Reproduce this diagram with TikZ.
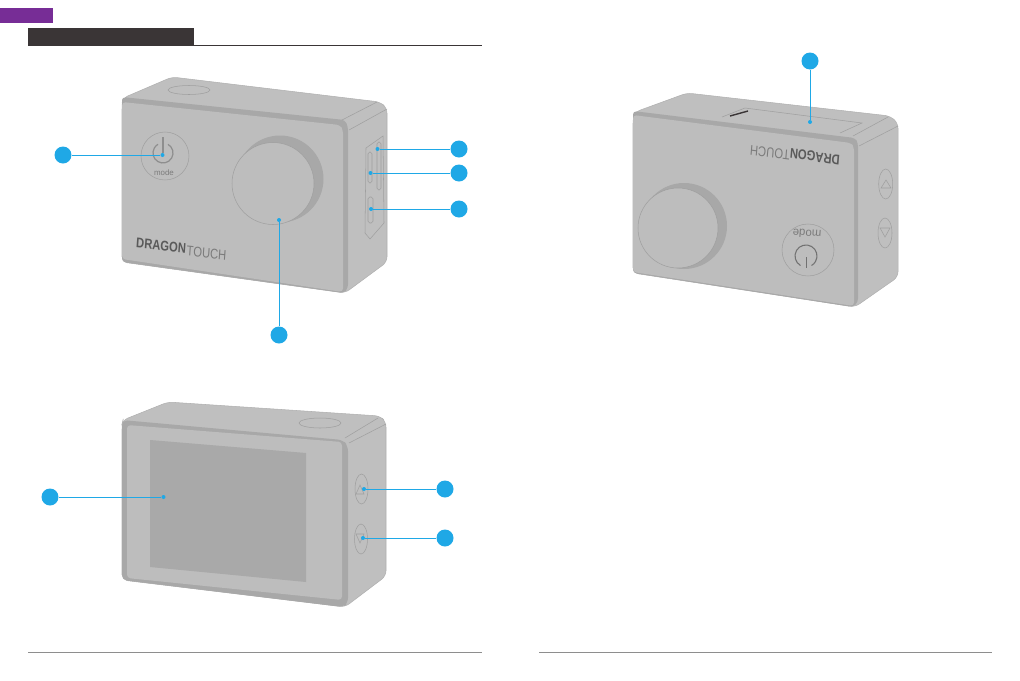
\documentclass[tikz,border=0pt]{standalone}
\usepackage{fontspec}
\setmainfont{Liberation Sans}
\tikzset{
  body/.style={fill=camgray, draw=edgegray!70, line width=0.3pt, rounded corners=3pt},
  band/.style={fill=bandgray, rounded corners=2pt},
  face/.style={fill=facegray, rounded corners=2pt},
  thin line/.style={draw=edgegray!85, line width=0.3pt},
  callnum/.style={circle, fill=callblue, minimum size=0.34cm, inner sep=0pt},
  tipdot/.style={circle, fill=callblue, minimum size=0.08cm, inner sep=0pt},
  callout/.style={draw=callblue, line width=0.5pt},
  logotext/.style={font=\fontsize{8}{8}\selectfont, xscale=0.8, inner sep=0pt, text=logogray},
  modetext/.style={font=\fontsize{4.5}{4.5}\selectfont, inner sep=0pt, text=logogray!80}
}
\definecolor{camgray}{HTML}{BFBFBF}
\definecolor{bandgray}{HTML}{A8A8A8}
\definecolor{facegray}{HTML}{BDBDBD}
\definecolor{screengray}{HTML}{A9A9A9}
\definecolor{edgegray}{HTML}{8E8E8E}
\definecolor{logogray}{HTML}{5A5A5A}
\definecolor{callblue}{HTML}{1FA8E6}
\definecolor{headdark}{HTML}{3A3536}
\definecolor{headpurple}{HTML}{772D96}
\begin{document}
\begin{tikzpicture}[x=0.02cm, y=-0.02cm]
  \useasboundingbox (0,0) rectangle (1020,680);

  % page header and footer
  \fill[headpurple] (0,8) rectangle (53,23);
  \fill[headdark] (28,28) rectangle (194,45.5);
  \draw[headdark, line width=0.45pt] (194,45) -- (482,45);
  \draw[edgegray, line width=0.4pt] (28,652) -- (482,652);
  \draw[edgegray, line width=0.4pt] (539,652) -- (992,652);

  % front view
  \draw[body] (122,104) -- (123,98) -- (172,77) -- (380,102) -- (387,108) -- (387,262) -- (345,293) -- (122,262) -- cycle;
  \fill[band] (122,97) -- (345,120) -- (348,127) -- (348,288) -- (344,293) -- (122,262) -- cycle;
  \fill[face] (122,102) -- (340,125) -- (343,130) -- (343,292) -- (122,259) -- cycle;
  \draw[thin line] (342,120) -- (377,102);
  \draw[thin line] (349,130) -- (387,109);
  \draw[thin line] (189,90) ellipse [x radius=21, y radius=4.5];
  \fill[bandgray] (280,179) circle [radius=43.5];
  \draw[thin line, fill=facegray] (273,183.5) circle [radius=41];
  \draw[thin line] (165,156) circle [radius=24];
  \draw[edgegray, line width=0.7pt] (168,144.3) arc [start angle=-60, end angle=240, radius=10];
  \draw[edgegray, line width=0.7pt] (163,137) -- (163,153);
  \node[modetext] (modeA) at (164,173) {mode};
  \node[logotext, rotate=-5, font=\fontsize{8}{8}\selectfont\bfseries, anchor=west] (logoA) at (136,243) {DRAGON};
  \node[logotext, rotate=-5, anchor=west, text=logogray!80] (touchA) at (186.5,251) {TOUCH};
  % side ports
  \draw[thin line] (366,148) -- (383,136) -- (384,223) -- (370,239) -- (365,233) -- cycle;
  \draw[thin line, rounded corners=1pt] (377,142) rectangle (381,190);
  \draw[thin line, rounded corners=1pt] (368,152) rectangle (372,183);
  \draw[thin line, rounded corners=1pt] (368,197) rectangle (373,223);

  % back view
  \draw[body] (122,424) -- (123,420) -- (168,402) -- (380,416) -- (386,422) -- (386,576) -- (345,607) -- (122,580) -- cycle;
  \fill[band, rounded corners=3pt] (122,420) -- (343,440) -- (348,446) -- (348,603) -- (343,607) -- (122,580) -- cycle;
  \fill[face] (127,425) -- (342,442) -- (342,600) -- (127,578) -- cycle;
  \fill[screengray] (150,440) -- (306,453) -- (306,582) -- (150,567) -- cycle;
  \draw[thin line] (345,438) -- (378,418);
  \draw[thin line] (349,443) -- (386,424);
  \draw[thin line] (320,423) ellipse [x radius=21, y radius=5];
  \draw[thin line] (361.5,489) ellipse [x radius=6.5, y radius=15];
  \draw[thin line] (361,539) ellipse [x radius=6.5, y radius=15];
  \draw[thin line] (360,485) -- (356,494) -- (364,494) -- cycle;
  \draw[thin line] (360,543) -- (356,534) -- (364,534) -- cycle;

  % top view
  \draw[body] (633,118) -- (635,112) -- (687,93) -- (890,116) -- (898,123) -- (898,277) -- (855,307) -- (633,273) -- cycle;
  \fill[band] (633,111) -- (855,138) -- (858,143) -- (858,302) -- (853,307) -- (633,273) -- cycle;
  \fill[face] (633,115) -- (851,143) -- (854,147) -- (854,306) -- (633,272) -- cycle;
  \draw[thin line] (853,136) -- (888,117);
  \draw[thin line] (859,146) -- (898,126);
  \draw[thin line] (722,117) -- (745,108) -- (862,123) -- (840,133);
  \draw[headdark, line width=0.8pt] (730,116) -- (748,111);
  \fill[bandgray] (684,226) circle [radius=43];
  \draw[thin line, fill=facegray] (678,228) circle [radius=40];
  \draw[thin line] (808,250) circle [radius=26];
  \draw[edgegray!80!black, line width=0.6pt] (800.5,265.5) arc [start angle=120, end angle=420, radius=11];
  \draw[edgegray!80!black, line width=0.6pt] (806.5,257) -- (806.5,268);
  \node[modetext, rotate=176, font=\fontsize{6.5}{6.5}\selectfont] (modeB) at (807,234) {mode};
  \node[logotext, rotate=174, font=\fontsize{8}{8}\selectfont\bfseries, anchor=west] (logoB) at (840,160) {DRAGON};
  \node[logotext, rotate=174, anchor=west, text=logogray!80] (touchB) at (790,155) {TOUCH};
  \draw[thin line] (885.7,184) ellipse [x radius=7, y radius=15];
  \draw[thin line] (885,233) ellipse [x radius=7, y radius=15];
  \draw[thin line] (886,180) -- (881,188) -- (891,188) -- cycle;
  \draw[thin line] (885,237) -- (880,228) -- (890,228) -- cycle;

  % callouts
  \node[callnum] (numPower) at (63,155) {};
  \node[tipdot] (tipPower) at (162.5,155) {};
  \draw[callout] (numPower) -- (tipPower);
  \node[callnum] (numCard) at (459,149) {};
  \node[tipdot] (tipCard) at (377.5,149) {};
  \draw[callout] (numCard) -- (tipCard);
  \node[callnum] (numUsb) at (459,173) {};
  \node[tipdot] (tipUsb) at (370.5,173) {};
  \draw[callout] (numUsb) -- (tipUsb);
  \node[callnum] (numHdmi) at (459,209) {};
  \node[tipdot] (tipHdmi) at (371,209) {};
  \draw[callout] (numHdmi) -- (tipHdmi);
  \node[callnum] (numLens) at (279,335) {};
  \node[tipdot] (tipLens) at (279,220) {};
  \draw[callout] (numLens) -- (tipLens);
  \node[callnum] (numScreen) at (50,497) {};
  \node[tipdot] (tipScreen) at (163.5,497) {};
  \draw[callout] (numScreen) -- (tipScreen);
  \node[callnum] (numUp) at (445,489) {};
  \node[tipdot] (tipUp) at (364,489) {};
  \draw[callout] (numUp) -- (tipUp);
  \node[callnum] (numDown) at (445,538) {};
  \node[tipdot] (tipDown) at (363,538) {};
  \draw[callout] (numDown) -- (tipDown);
  \node[callnum] (numBattery) at (810,61) {};
  \node[tipdot] (tipBattery) at (810,122) {};
  \draw[callout] (numBattery) -- (tipBattery);
\end{tikzpicture}
\end{document}
